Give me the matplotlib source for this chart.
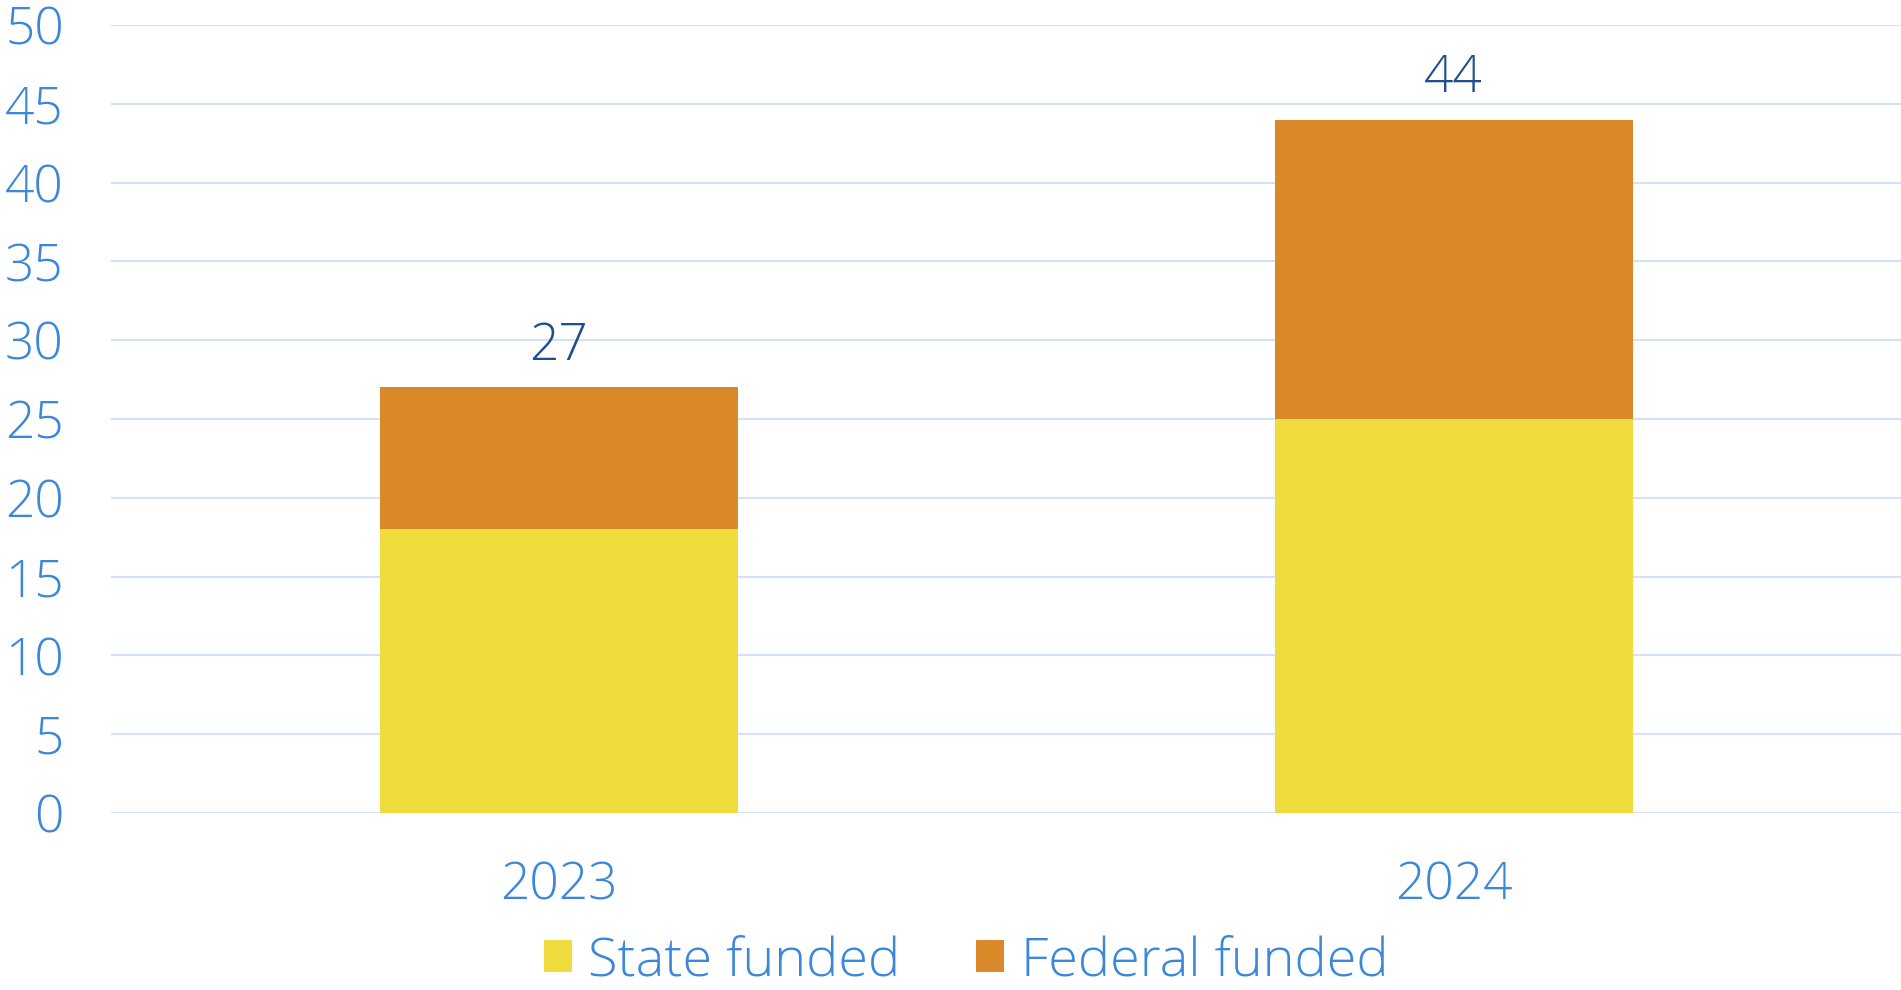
import matplotlib
matplotlib.use("Agg")
import matplotlib.pyplot as plt
import numpy as np

categories = ["2023", "2024"]
state_funded = [18, 25]
federal_funded = [9, 19]
series_labels = ["State funded", "Federal funded"]

plt.rcParams['font.family'] = ['Open Sans', 'DejaVu Sans']
plt.rcParams['font.weight'] = 'light'

tick_color = "#3A87DB"
label_color = "#1F4E8C"
state_color = "#F0DC3C"
fed_color = "#D98927"
grid_color = "#D3E2F6"

fig = plt.figure(figsize=(19.01, 9.90), dpi=100)
ax = fig.add_axes([111/1901, 1-813/990, 1-111/1901, (813-25)/990])

x = np.arange(len(categories))
b1 = ax.bar(x, state_funded, width=0.4, color=state_color, label=series_labels[0], zorder=3)
b2 = ax.bar(x, federal_funded, width=0.4, bottom=state_funded, color=fed_color, label=series_labels[1], zorder=3)

totals = [s + f for s, f in zip(state_funded, federal_funded)]
for xi, t in zip(x, totals):
    ax.annotate(str(t), (xi, t), xytext=(0, 30), textcoords="offset points",
                ha="center", va="center", fontsize=37, color=label_color)

ax.set_xlim(-0.5, 1.5)
ax.set_ylim(0, 50)
ax.set_yticks(range(0, 51, 5))
ax.set_xticks(x)
ax.set_xticklabels(categories)
ax.yaxis.grid(True, color=grid_color, linewidth=1.5, zorder=0)
ax.set_axisbelow(True)
for s in ax.spines.values():
    s.set_visible(False)
ax.tick_params(axis="both", length=0, labelsize=37, labelcolor=tick_color)
ax.tick_params(axis="y", pad=34)
ax.tick_params(axis="x", pad=34)

fig.legend(handles=[b1, b2], labels=series_labels, loc="lower center",
           bbox_to_anchor=(966/1901, 2/990), ncol=2, frameon=False,
           borderaxespad=0, borderpad=0,
           fontsize=39, labelcolor=tick_color, handlelength=0.52, handleheight=0.52,
           handletextpad=0.3, columnspacing=1.4)

fig.savefig("out.png", dpi=100)
